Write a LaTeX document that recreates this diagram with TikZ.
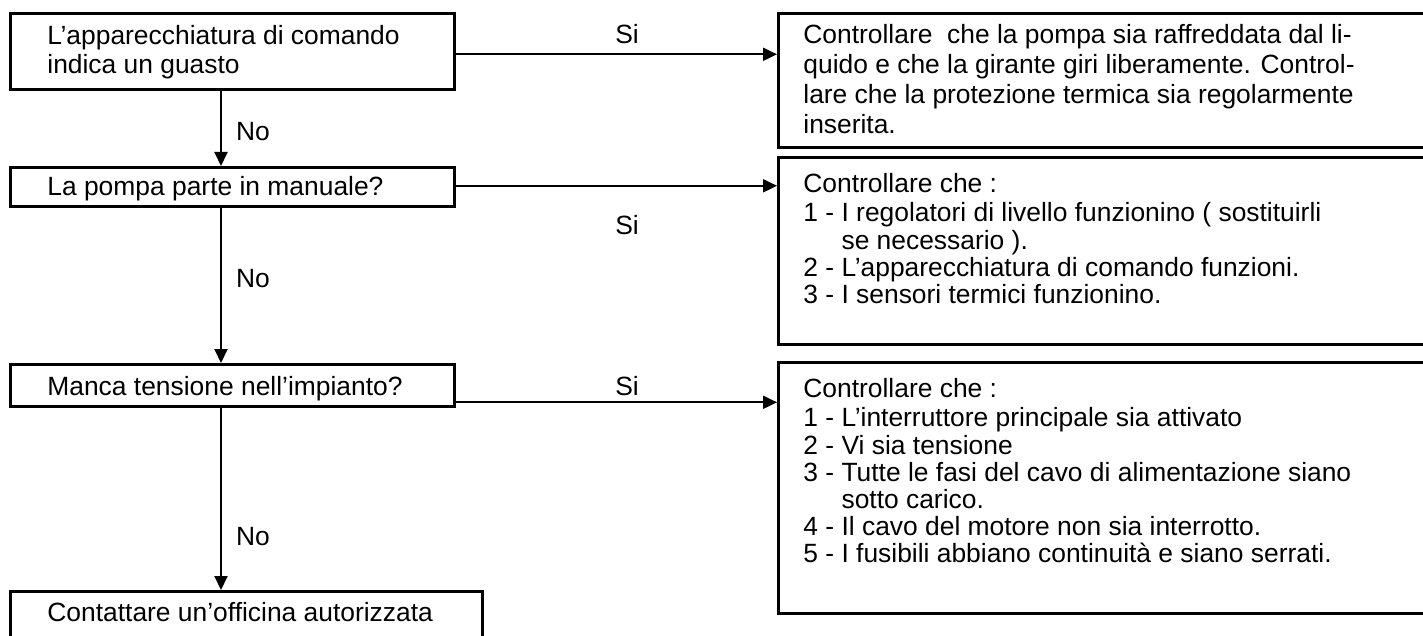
\documentclass[tikz,border=0pt]{standalone}
\usepackage{fontspec}
\setmainfont{Liberation Sans}
\usetikzlibrary{arrows.meta}
\begin{document}
\begin{tikzpicture}[x=0.5pt,y=-0.5pt,
  box/.style={draw, line width=1.3pt, inner sep=0pt, anchor=north west},
  txt/.style={inner sep=0pt, anchor=north west, align=left, font=\fontsize{13.2}{14.5}\selectfont},
  txtb/.style={txt, font=\fontsize{13.2}{15}\selectfont},
  txtl/.style={txt, font=\fontsize{13.2}{13.6}\selectfont},
  lab/.style={inner sep=0pt, font=\fontsize{13.2}{14.5}\selectfont},
  arr/.style={line width=1pt, -{Triangle[length=7pt,width=6.5pt]}}]
\useasboundingbox (0,0) rectangle (1423,636);
% left column boxes
\node[box, minimum width=222pt, minimum height=38pt] (q1) at (9,12) {};
\node[box, minimum width=222pt, minimum height=19.5pt] (q2) at (9,166) {};
\node[box, minimum width=222pt, minimum height=21pt] (q3) at (9,363) {};
\node[box, minimum width=236pt, minimum height=40pt] (q4) at (9,590) {};
% right column boxes
\node[box, minimum width=340pt, minimum height=67pt] (r1) at (777,12) {};
\node[box, minimum width=340pt, minimum height=93.5pt] (r2) at (777,156) {};
\node[box, minimum width=340pt, minimum height=125.5pt] (r3) at (777,361) {};
% texts
\node[txt] (t1) at (47,24) {\strut L’apparecchiatura di comando\\indica un guasto};
\node[txt] (t2) at (47,175) {\strut La pompa parte in manuale?};
\node[txt] (t3) at (47,375) {\strut Manca tensione nell’impianto?};
\node[txt] (t4) at (47,601) {\strut Contattare un’officina autorizzata};
\node[txtb] (u1) at (803,22) {\strut Controllare\ \ che la pompa sia raffreddata dal li-\\quido e che la girante giri liberamente. Control-\\lare che la protezione termica sia regolarmente\\inserita.};
\node[txtl] (u2) at (803,173) {\strut Controllare che :\\1 - I regolatori di livello funzionino ( sostituirli\\\hphantom{1 - }se necessario ).\\2 - L’apparecchiatura di comando funzioni.\\3 - I sensori termici funzionino.};
\node[txtl] (u3) at (803,378) {\strut Controllare che :\\1 - L’interruttore principale sia attivato\\2 - Vi sia tensione\\3 - Tutte le fasi del cavo di alimentazione siano\\\hphantom{1 - }sotto carico.\\4 - Il cavo del motore non sia interrotto.\\5 - I fusibili abbiano continuità e siano serrati.};
% labels
\node[lab] (s1) at (627,34) {Si};
\node[lab] (s2) at (627,225) {Si};
\node[lab] (s3) at (627,386) {Si};
\node[lab] (n1) at (253,132) {No};
\node[lab] (n2) at (253,279) {No};
\node[lab] (n3) at (253,537) {No};
% connectors
\draw[arr] ([yshift=-1.5pt]q1.east) -- ([yshift=-1.5pt]q1.east -| r1.west);
\draw[arr] ([yshift=0.5pt]q2.east) -- ([yshift=0.5pt]q2.east -| r2.west);
\draw[arr] ([yshift=-8.5pt]q3.east) -- ([yshift=-8.5pt]q3.east -| r3.west);
\draw[arr] ([xshift=106pt]q1.south west) -- ([xshift=106pt]q1.south west |- q2.north);
\draw[arr] ([xshift=106pt]q2.south west) -- ([xshift=106pt]q2.south west |- q3.north);
\draw[arr] ([xshift=106pt]q3.south west) -- ([xshift=106pt]q3.south west |- q4.north);
\end{tikzpicture}
\end{document}
